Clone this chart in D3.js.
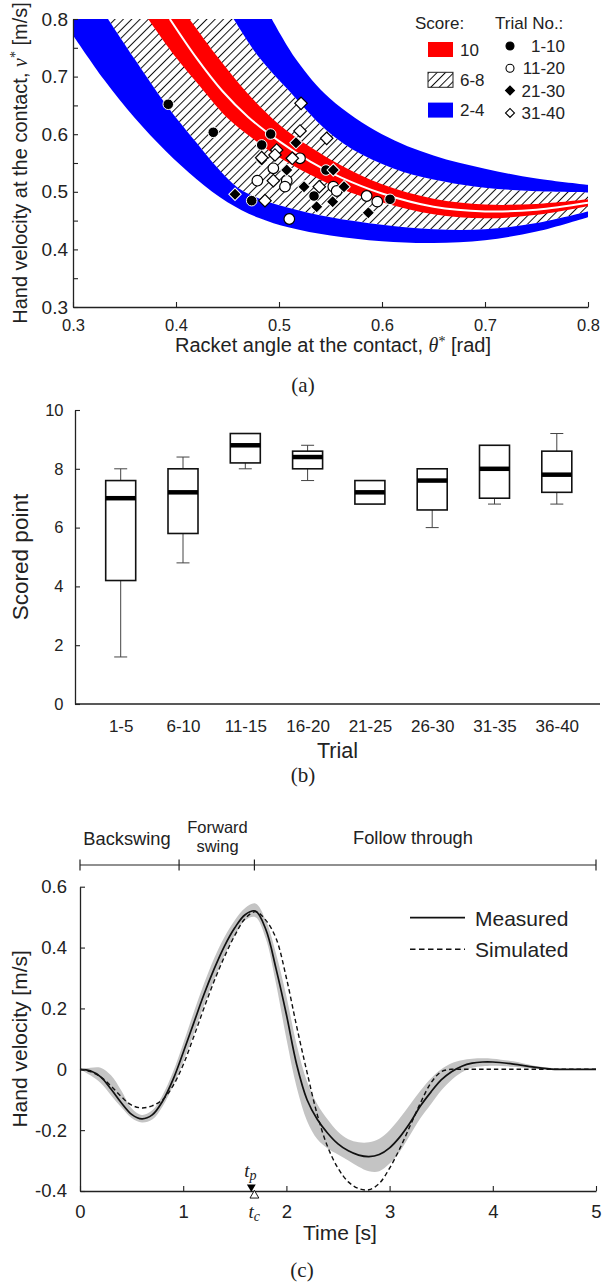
<!DOCTYPE html>
<html>
<head>
<meta charset="utf-8">
<script src="https://cdnjs.cloudflare.com/ajax/libs/d3/7.8.5/d3.min.js"></script>
<style>
body { margin: 0; background: #fff; }
text { fill: #222; }
</style>
</head>
<body>
<div id="chart"></div>
<script>
//General
var sans = '"Liberation Sans", Arial, sans-serif';
var serif = '"Liberation Serif", "DejaVu Serif", serif';
var ink = "#222";

//Data (a): score band boundaries, [theta, v]
var blueLowOuter = [[0.30,0.772],[0.33,0.695],[0.36,0.628],[0.39,0.571],[0.42,0.522],[0.45,0.482],[0.48,0.455],[0.51,0.438],[0.55,0.424],[0.60,0.414],[0.65,0.411],[0.70,0.416],[0.75,0.431],[0.80,0.456]];
var hatchLowOuter = [[0.334,0.80],[0.36,0.73],[0.39,0.652],[0.42,0.585],[0.44,0.542],[0.46,0.507],[0.48,0.489],[0.51,0.472],[0.55,0.456],[0.60,0.443],[0.65,0.435],[0.70,0.435],[0.75,0.446],[0.80,0.466]];
var redLow = [[0.373,0.80],[0.40,0.733],[0.42,0.69],[0.45,0.628],[0.48,0.585],[0.50,0.56],[0.53,0.53],[0.56,0.505],[0.60,0.482],[0.65,0.461],[0.70,0.454],[0.75,0.46],[0.80,0.475]];
var optimum = [[0.394,0.80],[0.42,0.732],[0.445,0.675],[0.47,0.63],[0.50,0.588],[0.53,0.553],[0.56,0.525],[0.60,0.497],[0.65,0.474],[0.70,0.466],[0.75,0.469],[0.80,0.481]];
var redHigh = [[0.413,0.80],[0.44,0.735],[0.47,0.67],[0.50,0.617],[0.53,0.578],[0.56,0.546],[0.60,0.513],[0.65,0.488],[0.70,0.478],[0.75,0.479],[0.80,0.487]];
var hatchHighOuter = [[0.456,0.80],[0.48,0.735],[0.51,0.675],[0.546,0.607],[0.58,0.565],[0.62,0.535],[0.66,0.518],[0.70,0.507],[0.75,0.501],[0.80,0.499]];
var blueHighOuter = [[0.493,0.80],[0.517,0.729],[0.5495,0.662],[0.60,0.60],[0.65,0.563],[0.70,0.54],[0.75,0.523],[0.80,0.512]];

//Data (a): trials, [theta, v]
var trials1to10 = [[0.3925,0.652],[0.4362,0.6033],[0.4919,0.6003],[0.4832,0.5813],[0.5456,0.5378],[0.534,0.4927],[0.4735,0.4846],[0.6078,0.487]];
var trials11to20 = [[0.5204,0.5582],[0.4945,0.5408],[0.479,0.5193],[0.5075,0.5193],[0.5058,0.5089],[0.5527,0.5089],[0.556,0.5014],[0.5851,0.4927],[0.5954,0.4829],[0.51,0.4528]];
var trials21to30 = [[0.5165,0.5853],[0.4832,0.5552],[0.5075,0.5378],[0.5243,0.5089],[0.5527,0.5378],[0.5631,0.5089],[0.5521,0.4829],[0.5366,0.4742],[0.5867,0.4638],[0.4573,0.4957]];
var trials31to40 = [[0.5214,0.6536],[0.5204,0.6056],[0.5463,0.5928],[0.4977,0.5726],[0.4961,0.5639],[0.5129,0.5582],[0.4832,0.5593],[0.4945,0.5193],[0.5391,0.5089],[0.4864,0.4846]];
var scoreLabels = ["10", "6-8", "2-4"];
var trialLabels = ["1-10", "11-20", "21-30", "31-40"];

//Data (b): box plots of scored point
var trialGroups = ["1-5","6-10","11-15","16-20","21-25","26-30","31-35","36-40"];
var scoreMin = [1.6, 4.8, 8.0, 7.6, 6.8, 6.0, 6.8, 6.8];
var scoreQ1  = [4.2, 5.8, 8.2, 8.0, 6.8, 6.6, 7.0, 7.2];
var scoreMed = [7.0, 7.2, 8.8, 8.4, 7.2, 7.6, 8.0, 7.8];
var scoreQ3  = [7.6, 8.0, 9.2, 8.6, 7.6, 8.0, 8.8, 8.6];
var scoreMax = [8.0, 8.4, 9.2, 8.8, 7.6, 8.0, 8.8, 9.2];

//Data (c): hand velocity time series
var timeS = [0,0.1,0.2,0.3,0.4,0.5,0.6,0.7,0.8,0.9,1.0,1.1,1.2,1.3,1.4,1.5,1.6,1.7,1.8,1.9,2.0,2.1,2.2,2.3,2.4,2.5,2.6,2.7,2.8,2.9,3.0,3.1,3.2,3.3,3.4,3.5,3.6,3.7,3.8,3.9,4.0,4.2,4.4,4.6,4.8,5.0];
var measured = [0,-0.005,-0.025,-0.065,-0.11,-0.148,-0.163,-0.15,-0.105,-0.035,0.055,0.15,0.245,0.33,0.405,0.465,0.508,0.52,0.46,0.33,0.18,0.015,-0.1,-0.165,-0.21,-0.245,-0.268,-0.282,-0.287,-0.28,-0.258,-0.222,-0.175,-0.12,-0.075,-0.035,-0.008,0.01,0.02,0.024,0.024,0.017,0.007,0,0,0];
var measuredLo = [0,-0.02,-0.045,-0.085,-0.125,-0.16,-0.175,-0.165,-0.122,-0.055,0.025,0.115,0.21,0.295,0.375,0.44,0.49,0.50,0.43,0.28,0.10,-0.06,-0.17,-0.23,-0.26,-0.28,-0.30,-0.32,-0.335,-0.335,-0.31,-0.27,-0.215,-0.16,-0.115,-0.07,-0.035,-0.01,0.005,0.01,0.012,0.008,0.002,-0.002,0,0];
var measuredHi = [0,0.005,0.005,-0.02,-0.07,-0.128,-0.15,-0.135,-0.085,-0.01,0.085,0.185,0.28,0.365,0.435,0.49,0.53,0.545,0.49,0.38,0.24,0.08,-0.04,-0.115,-0.165,-0.205,-0.23,-0.24,-0.24,-0.228,-0.2,-0.16,-0.115,-0.07,-0.03,0.0,0.02,0.03,0.035,0.036,0.035,0.026,0.012,0.003,0,0];
var simulated = [0,-0.008,-0.025,-0.055,-0.09,-0.118,-0.127,-0.12,-0.1,-0.055,0.015,0.105,0.2,0.29,0.37,0.44,0.495,0.518,0.49,0.43,0.3,0.14,-0.01,-0.15,-0.255,-0.325,-0.37,-0.392,-0.396,-0.375,-0.325,-0.26,-0.185,-0.11,-0.045,-0.008,0,0,0,0,0,0,0,0,0,0];
var phaseBounds = [0, 0.96, 1.69, 5];
var tPeak = 1.66, tContact = 1.69;

//SVG
var svg = d3.select("#chart").append("svg")
    .attr("width", 602)
    .attr("height", 1286);
var defs = svg.append("defs");

var hatch = defs.append("pattern")
    .attr("id", "hatch")
    .attr("patternUnits", "userSpaceOnUse")
    .attr("width", 5.9)
    .attr("height", 5.9)
    .attr("patternTransform", "rotate(45)");
hatch.append("rect").attr("width", 5.9).attr("height", 5.9).attr("fill", "#fff");
hatch.append("line").attr("x1", 0.5).attr("y1", 0).attr("x2", 0.5).attr("y2", 5.9)
    .attr("stroke", "#111").attr("stroke-width", 1);

function styleAxis(g, size) {
    g.attr("font-family", sans).attr("font-size", size).attr("color", ink);
    g.select(".domain").attr("stroke-width", 1.3);
    g.selectAll(".tick line").attr("stroke-width", 1.1);
}

// ---------- Panel (a) ----------
var xA = d3.scaleLinear().domain([0.3, 0.8]).range([73, 588]);
var yA = d3.scaleLinear().domain([0.3, 0.8]).range([307, 19]);

defs.append("clipPath").attr("id", "clipA")
    .append("rect")
    .attr("x", xA(0.3)).attr("y", yA(0.8))
    .attr("width", xA(0.8) - xA(0.3)).attr("height", yA(0.3) - yA(0.8));

var lineA = d3.line()
    .x(d => xA(d[0]))
    .y(d => yA(d[1]))
    .curve(d3.curveCatmullRom.alpha(0.5));

function bandPath(lower, upper, corner) {
    var p = lineA(lower) + lineA(upper.slice().reverse()).replace(/^M/, "L");
    if (corner) p += "L" + xA(corner[0]) + "," + yA(corner[1]);
    return p + "Z";
}

var bands = svg.append("g").attr("clip-path", "url(#clipA)");
bands.append("path").attr("d", bandPath(hatchLowOuter, hatchHighOuter)).attr("fill", "url(#hatch)");
bands.append("path").attr("d", bandPath(redLow, redHigh)).attr("fill", "#ff0000");
bands.append("path").attr("d", bandPath(blueLowOuter, hatchLowOuter, [0.3, 0.8])).attr("fill", "#0000ff");
bands.append("path").attr("d", bandPath(hatchHighOuter, blueHighOuter)).attr("fill", "#0000ff");
bands.append("path").attr("d", lineA(optimum))
    .attr("fill", "none").attr("stroke", "#fff").attr("stroke-width", 2);

var circleSym = d3.symbol().type(d3.symbolCircle).size(Math.PI * 5.3 * 5.3);
var diamondSym = d3.symbol().type(d3.symbolSquare).size(8.8 * 8.8);

var trialSets = [
    { data: trials1to10, sym: circleSym, filled: true },
    { data: trials11to20, sym: circleSym, filled: false },
    { data: trials21to30, sym: diamondSym, filled: true },
    { data: trials31to40, sym: diamondSym, filled: false }
];

trialSets.forEach(set => {
    svg.append("g").selectAll("path")
        .data(set.data)
        .join("path")
        .attr("d", set.sym)
        .attr("transform", d => `translate(${xA(d[0])},${yA(d[1])})` + (set.sym === diamondSym ? " rotate(45)" : ""))
        .attr("fill", set.filled ? "#000" : "#fff")
        .attr("stroke", set.filled ? "#fff" : "#000")
        .attr("stroke-width", set.filled ? 1 : 1.2);
});

var yAxisA = svg.append("g")
    .attr("transform", `translate(${xA(0.3)},0)`)
    .call(d3.axisLeft(yA)
        .tickValues(d3.range(0, 11).map(i => 0.3 + i * 0.05))
        .tickFormat(d => Math.round(d * 100) % 10 === 0 ? d3.format(".1f")(d) : "")
        .tickSizeInner(-5).tickSizeOuter(0).tickPadding(5));
styleAxis(yAxisA, 19);

var xAxisA = svg.append("g")
    .attr("transform", `translate(0,${yA(0.3)})`)
    .call(d3.axisBottom(xA)
        .tickValues([0.3, 0.4, 0.5, 0.6, 0.7, 0.8])
        .tickFormat(d3.format(".1f"))
        .tickSizeInner(-5).tickSizeOuter(0).tickPadding(12));
styleAxis(xAxisA, 16.5);

var yTitleA = svg.append("text")
    .attr("transform", "translate(27,163) rotate(-90)")
    .attr("text-anchor", "middle")
    .attr("font-family", sans).attr("font-size", 20);
yTitleA.append("tspan").text("Hand velocity at the contact, ");
yTitleA.append("tspan").attr("font-family", serif).attr("font-style", "italic").text("v");
yTitleA.append("tspan").attr("font-family", serif).attr("font-size", 14).attr("dy", -7).text("*");
yTitleA.append("tspan").attr("dy", 7).text(" [m/s]");

var xTitleA = svg.append("text")
    .attr("x", 333).attr("y", 352)
    .attr("text-anchor", "middle")
    .attr("font-family", sans).attr("font-size", 20);
xTitleA.append("tspan").text("Racket angle at the contact, ");
xTitleA.append("tspan").attr("font-family", serif).attr("font-style", "italic").text("θ");
xTitleA.append("tspan").attr("font-family", serif).attr("font-size", 14).attr("dy", -6).text("*");
xTitleA.append("tspan").attr("dy", 6).text(" [rad]");

// legend (a)
var legA = svg.append("g").attr("font-family", sans).attr("font-size", 17);
legA.append("text").attr("x", 415).attr("y", 29).text("Score:");
legA.append("text").attr("x", 495).attr("y", 29).text("Trial No.:");
var scoreFills = ["#ff0000", "url(#hatch)", "#0000ff"];
legA.selectAll("rect.score")
    .data(scoreLabels)
    .join("rect")
    .attr("class", "score")
    .attr("x", 428).attr("y", (d, i) => 42 + i * 30.3)
    .attr("width", 25).attr("height", 15)
    .attr("fill", (d, i) => scoreFills[i])
    .attr("stroke", (d, i) => i === 1 ? "#222" : "none")
    .attr("stroke-width", 1);
legA.selectAll("text.score")
    .data(scoreLabels)
    .join("text")
    .attr("class", "score")
    .attr("x", 460).attr("y", (d, i) => 55.5 + i * 30.3)
    .text(d => d);
var legSyms = [d3.symbol().type(d3.symbolCircle).size(Math.PI * 16), d3.symbol().type(d3.symbolSquare).size(40)];
legA.selectAll("path.trial")
    .data(trialLabels)
    .join("path")
    .attr("class", "trial")
    .attr("d", (d, i) => legSyms[i < 2 ? 0 : 1]())
    .attr("transform", (d, i) => `translate(510,${46 + i * 22.3})` + (i >= 2 ? " rotate(45)" : ""))
    .attr("fill", (d, i) => i % 2 === 0 ? "#000" : "#fff")
    .attr("stroke", "#000").attr("stroke-width", 1.1);
legA.selectAll("text.trial")
    .data(trialLabels)
    .join("text")
    .attr("class", "trial")
    .attr("x", 565).attr("y", (d, i) => 52 + i * 22.3)
    .attr("text-anchor", "end")
    .text(d => d);

svg.append("text").attr("x", 303).attr("y", 392)
    .attr("text-anchor", "middle").attr("font-family", serif).attr("font-size", 21)
    .text("(a)");

// ---------- Panel (b) ----------
var frameB = { left: 75, right: 600 };
var yB = d3.scaleLinear().domain([0, 10]).range([704, 410]);
var xB = d3.scalePoint().domain(trialGroups).range([120.7, 556.8]);
var boxW = 30, capW = 13;

var xAxisB = svg.append("g")
    .attr("transform", `translate(0,${yB(0)})`)
    .call(d3.axisBottom(xB).tickSize(0).tickPadding(15.5));
styleAxis(xAxisB, 17);
xAxisB.select(".domain").remove();
svg.append("line")
    .attr("x1", frameB.left).attr("x2", frameB.right)
    .attr("y1", yB(0)).attr("y2", yB(0))
    .attr("stroke", ink).attr("stroke-width", 1.3);

var yAxisB = svg.append("g")
    .attr("transform", `translate(${frameB.left},0)`)
    .call(d3.axisLeft(yB).tickValues([0, 2, 4, 6, 8, 10])
        .tickSizeInner(-5).tickSizeOuter(0).tickPadding(11.5));
styleAxis(yAxisB, 16.5);

var boxes = svg.append("g").selectAll("g")
    .data(trialGroups)
    .join("g")
    .attr("transform", d => `translate(${xB(d)},0)`);

boxes.each(function (d, i) {
    var g = d3.select(this);
    if (scoreMax[i] > scoreQ3[i]) {
        g.append("line").attr("y1", yB(scoreQ3[i])).attr("y2", yB(scoreMax[i]))
            .attr("stroke", "#444").attr("stroke-width", 1);
        g.append("line").attr("x1", -capW / 2).attr("x2", capW / 2)
            .attr("y1", yB(scoreMax[i])).attr("y2", yB(scoreMax[i]))
            .attr("stroke", "#444").attr("stroke-width", 1);
    }
    if (scoreMin[i] < scoreQ1[i]) {
        g.append("line").attr("y1", yB(scoreQ1[i])).attr("y2", yB(scoreMin[i]))
            .attr("stroke", "#444").attr("stroke-width", 1);
        g.append("line").attr("x1", -capW / 2).attr("x2", capW / 2)
            .attr("y1", yB(scoreMin[i])).attr("y2", yB(scoreMin[i]))
            .attr("stroke", "#444").attr("stroke-width", 1);
    }
    g.append("rect")
        .attr("x", -boxW / 2).attr("width", boxW)
        .attr("y", yB(scoreQ3[i])).attr("height", yB(scoreQ1[i]) - yB(scoreQ3[i]))
        .attr("fill", "#fff").attr("stroke", "#111").attr("stroke-width", 1.6);
    g.append("line").attr("x1", -boxW / 2).attr("x2", boxW / 2)
        .attr("y1", yB(scoreMed[i])).attr("y2", yB(scoreMed[i]))
        .attr("stroke", "#000").attr("stroke-width", 4.5);
});

svg.append("text")
    .attr("transform", `translate(28,${(yB(0) + yB(10)) / 2}) rotate(-90)`)
    .attr("text-anchor", "middle").attr("font-family", sans).attr("font-size", 22.5)
    .text("Scored point");
svg.append("text").attr("x", 337.5).attr("y", 758)
    .attr("text-anchor", "middle").attr("font-family", sans).attr("font-size", 21.5)
    .text("Trial");
svg.append("text").attr("x", 303).attr("y", 782)
    .attr("text-anchor", "middle").attr("font-family", serif).attr("font-size", 21)
    .text("(b)");

// ---------- Panel (c) ----------
var xC = d3.scaleLinear().domain([0, 5]).range([80, 596]);
var yC = d3.scaleLinear().domain([-0.4, 0.6]).range([1191, 886.7]);
var series = timeS.map((t, i) => ({ t: t, m: measured[i], lo: measuredLo[i], hi: measuredHi[i], s: simulated[i] }));

svg.append("path")
    .attr("d", d3.area().x(d => xC(d.t)).y0(d => yC(d.lo)).y1(d => yC(d.hi))
        .curve(d3.curveCatmullRom.alpha(0.5))(series))
    .attr("fill", "#c4c4c4");
svg.append("path")
    .attr("d", d3.line().x(d => xC(d.t)).y(d => yC(d.s)).curve(d3.curveCatmullRom.alpha(0.5))(series))
    .attr("fill", "none").attr("stroke", "#111").attr("stroke-width", 1.4)
    .attr("stroke-dasharray", "4.5,3");
svg.append("path")
    .attr("d", d3.line().x(d => xC(d.t)).y(d => yC(d.m)).curve(d3.curveCatmullRom.alpha(0.5))(series))
    .attr("fill", "none").attr("stroke", "#111").attr("stroke-width", 1.7);

var xAxisC = svg.append("g")
    .attr("transform", `translate(0,${yC(-0.4)})`)
    .call(d3.axisBottom(xC).tickValues([0, 1, 2, 3, 4, 5])
        .tickFormat(d3.format("d"))
        .tickSizeInner(-5).tickSizeOuter(0).tickPadding(14));
styleAxis(xAxisC, 18.5);

var yAxisC = svg.append("g")
    .attr("transform", `translate(${xC(0)},0)`)
    .call(d3.axisLeft(yC).tickValues([-0.4, -0.2, 0, 0.2, 0.4, 0.6])
        .tickFormat(d => Math.abs(d) < 1e-9 ? "0" : d3.format(".1f")(d).replace("\u2212", "-"))
        .tickSizeInner(-5).tickSizeOuter(0).tickPadding(13));
styleAxis(yAxisC, 18.5);

// peak and contact markers
svg.append("path")
    .attr("d", d3.symbol().type(d3.symbolTriangle).size(34)())
    .attr("transform", `translate(${xC(tPeak)},${yC(-0.4) - 4}) rotate(180)`)
    .attr("fill", "#000");
svg.append("path")
    .attr("d", d3.symbol().type(d3.symbolTriangle).size(34)())
    .attr("transform", `translate(${xC(tContact)},${yC(-0.4) + 4.5})`)
    .attr("fill", "#fff").attr("stroke", "#000").attr("stroke-width", 0.9);
var tp = svg.append("text").attr("x", xC(tPeak) - 7).attr("y", 1176.5)
    .attr("font-family", serif).attr("font-style", "italic").attr("font-size", 19);
tp.append("tspan").text("t");
tp.append("tspan").attr("font-size", 14).attr("dy", 3).text("p");
var tc = svg.append("text").attr("x", xC(tContact) - 6).attr("y", 1218)
    .attr("font-family", serif).attr("font-style", "italic").attr("font-size", 19);
tc.append("tspan").text("t");
tc.append("tspan").attr("font-size", 14).attr("dy", 3).text("c");

// phase bar
var phaseY = 865;
svg.append("line")
    .attr("x1", xC(phaseBounds[0])).attr("x2", xC(phaseBounds[phaseBounds.length - 1]))
    .attr("y1", phaseY).attr("y2", phaseY)
    .attr("stroke", ink).attr("stroke-width", 1.2);
svg.append("g").selectAll("line")
    .data(phaseBounds)
    .join("line")
    .attr("x1", d => xC(d)).attr("x2", d => xC(d))
    .attr("y1", phaseY - 5.5).attr("y2", phaseY + 5.5)
    .attr("stroke", ink).attr("stroke-width", 1.2);
var phaseText = svg.append("g").attr("font-family", sans).attr("font-size", 18.3).attr("text-anchor", "middle");
phaseText.append("text").attr("x", 127).attr("y", 845).text("Backswing");
phaseText.append("text").attr("x", 217.5).attr("y", 833).attr("font-size", 16.5).text("Forward");
phaseText.append("text").attr("x", 217.5).attr("y", 852).attr("font-size", 16.5).text("swing");
phaseText.append("text").attr("x", 413).attr("y", 843.5).text("Follow through");

// legend (c)
var legC = svg.append("g").attr("font-family", sans).attr("font-size", 21);
legC.append("line").attr("x1", 410).attr("x2", 465).attr("y1", 917.7).attr("y2", 917.7)
    .attr("stroke", "#111").attr("stroke-width", 1.7);
legC.append("line").attr("x1", 410).attr("x2", 465).attr("y1", 949.3).attr("y2", 949.3)
    .attr("stroke", "#111").attr("stroke-width", 1.4).attr("stroke-dasharray", "5.5,3.5");
legC.append("text").attr("x", 475).attr("y", 925.5).text("Measured");
legC.append("text").attr("x", 475).attr("y", 956.5).text("Simulated");

svg.append("text")
    .attr("transform", `translate(27,${(yC(-0.4) + yC(0.6)) / 2}) rotate(-90)`)
    .attr("text-anchor", "middle").attr("font-family", sans).attr("font-size", 21)
    .text("Hand velocity [m/s]");
svg.append("text").attr("x", 340).attr("y", 1240)
    .attr("text-anchor", "middle").attr("font-family", sans).attr("font-size", 21)
    .text("Time [s]");
svg.append("text").attr("x", 302).attr("y", 1276.5)
    .attr("text-anchor", "middle").attr("font-family", serif).attr("font-size", 21)
    .text("(c)");
</script>
</body>
</html>
